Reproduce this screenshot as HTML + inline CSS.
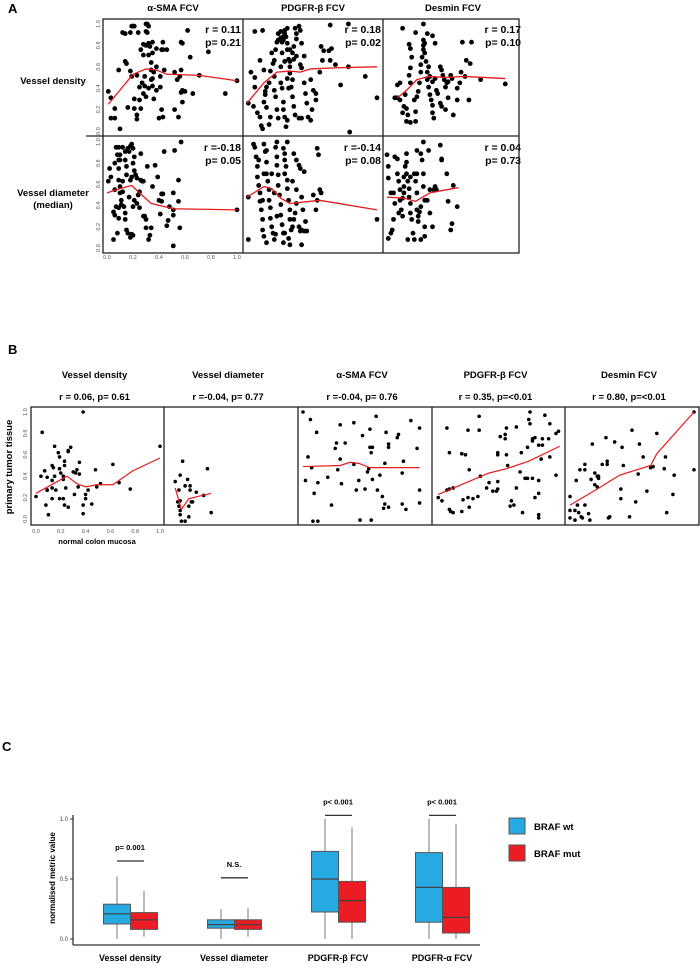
<!DOCTYPE html>
<html><head><meta charset="utf-8"><style>
body{margin:0;background:#fff;width:700px;height:969px;overflow:hidden}
svg{display:block;font-family:"Liberation Sans",Arial,sans-serif}
.b{font-weight:bold}
</style></head><body>
<svg id="fig" width="700" height="969" viewBox="0 0 700 969">
<g id="gA"></g>
<g id="gB"></g>
<g id="gC"></g>
</svg>
<script>
// ---------- Panel A data ----------
const aColTitles=["α-SMA FCV","PDGFR-β FCV","Desmin FCV"];
const aRowTitles=[["Vessel density"],["Vessel diameter","(median)"]];
const aR=[["r = 0.11","r = 0.18","r = 0.17"],["r =-0.18","r =-0.14","r = 0.04"]];
const aP=[["p= 0.21","p= 0.02","p= 0.10"],["p= 0.05","p= 0.08","p= 0.73"]];
const aTicks=[0,0.2,0.4,0.6,0.8,1.0];
const a11=[[.01,.37],[.03,.12],[.06,.12],[.03,.31],[.06,.21],[.10,.02],[.09,.57],[.12,.92],[.14,.65],[.14,.91],[.16,.22],[.18,.92],[.19,.98],[.20,.98],[.21,.98],[.15,.63],[.18,.56],[.19,.51],[.21,.30],[.23,.52],[.23,.11],[.23,.15],[.24,.92],[.21,.21],[.25,.29],[.25,.41],[.26,.21],[.27,.45],[.28,.35],[.29,.42],[.29,.51],[.30,.93],[.30,1.0],[.31,1.0],[.32,.98],[.31,.92],[.30,.80],[.32,.82],[.33,.79],[.28,.81],[.26,.76],[.28,.71],[.32,.71],[.35,.73],[.34,.64],[.34,.57],[.36,.55],[.34,.48],[.35,.42],[.36,.30],[.30,.32],[.32,.40],[.38,.77],[.38,.60],[.35,.83],[.42,.76],[.43,.83],[.43,.76],[.44,.57],[.46,.76],[.41,.51],[.41,.41],[.42,.20],[.43,.13],[.40,.12],[.35,.49],[.38,.38],[.52,.20],[.52,.55],[.54,.48],[.56,.51],[.58,.38],[.57,.36],[.55,.13],[.57,.57],[.58,.82],[.57,.83],[.58,.27],[.60,.37],[.62,.94],[.64,.69],[.66,.35],[.71,.52],[.78,.74],[.91,.35],[1.0,.47]];
const a11Line=[[.01,.25],[.2,.53],[.30,.58],[.38,.57],[.46,.53],[.71,.52],[1.0,.47]];
const a12=[[.01,.26],[.06,.93],[.12,.94],[.03,.55],[.06,.50],[.06,.41],[.05,.23],[.08,.17],[.10,.13],[.11,.05],[.12,.02],[.13,.27],[.14,.34],[.15,.41],[.17,.45],[.10,.66],[.13,.57],[.14,.37],[.15,.22],[.17,.06],[.18,.13],[.18,.56],[.19,.73],[.20,.63],[.21,.51],[.21,.38],[.22,.32],[.21,.66],[.22,.76],[.23,.83],[.24,.85],[.24,.91],[.26,.93],[.26,.87],[.27,.83],[.28,.88],[.28,.85],[.29,.91],[.29,.94],[.30,.88],[.31,.82],[.31,.76],[.32,.67],[.33,.60],[.33,.54],[.35,.48],[.34,.41],[.35,.32],[.36,.23],[.37,.15],[.26,.45],[.27,.40],[.28,.27],[.28,.20],[.29,.13],[.30,.04],[.31,.10],[.23,.20],[.24,.12],[.26,.60],[.27,.73],[.29,.65],[.31,.49],[.32,.40],[.33,.65],[.35,.73],[.36,.79],[.38,.86],[.38,.91],[.40,.98],[.41,.94],[.42,.82],[.44,.70],[.41,.62],[.42,.59],[.44,.45],[.45,.35],[.46,.26],[.47,.13],[.49,.10],[.49,.48],[.50,.20],[.51,.38],[.53,.35],[.53,.29],[.56,.55],[.57,.79],[.58,.66],[.59,.75],[.63,.75],[.64,.66],[.64,.99],[.65,.77],[.68,.62],[.72,.43],[.78,.60],[.78,1.0],[.79,-.01],[.91,.51],[1.0,.31],[.42,.12],[.40,.12],[.36,.67],[.38,.70],[.33,.76],[.31,.96],[.37,.96]];
const a12Line=[[.0,.26],[.13,.45],[.23,.55],[.33,.56],[.41,.55],[.49,.58],[.67,.59],[1.0,.60]];
const a13=[[.12,.96],[.22,.92],[.28,1.0],[.17,.81],[.18,.77],[.08,.43],[.08,.31],[.10,.29],[.13,.23],[.12,.17],[.14,.34],[.15,.21],[.16,.15],[.17,.52],[.18,.59],[.19,.69],[.18,.45],[.21,.29],[.22,.18],[.23,.32],[.24,.37],[.25,.45],[.26,.55],[.26,.62],[.27,.69],[.28,.76],[.28,.80],[.29,.82],[.29,.73],[.30,.65],[.31,.55],[.31,.48],[.32,.41],[.33,.34],[.34,.29],[.35,.24],[.35,.17],[.36,.12],[.28,.85],[.31,.91],[.35,.89],[.37,.82],[.15,.09],[.18,.08],[.22,.09],[.32,.60],[.33,.51],[.35,.46],[.37,.49],[.38,.38],[.39,.35],[.41,.60],[.42,.57],[.43,.52],[.44,.48],[.45,.41],[.46,.45],[.47,.46],[.49,.52],[.50,.49],[.41,.26],[.42,.23],[.45,.20],[.47,.31],[.51,.15],[.54,.29],[.54,.40],[.56,.45],[.57,.55],[.58,.83],[.60,.51],[.61,.66],[.63,.29],[.64,.63],[.65,.83],[.72,.48],[.91,.44],[.10,.45],[.06,.31]];
const a13Line=[[.08,.31],[.15,.38],[.23,.48],[.32,.51],[.44,.50],[.59,.51],[.91,.49]];
const a21=[[.01,.63],[.02,.75],[.03,.67],[.05,.08],[.06,.80],[.07,.95],[.08,.88],[.09,.83],[.09,.75],[.09,.95],[.10,.88],[.10,.83],[.10,.58],[.11,.45],[.12,.63],[.12,.95],[.14,.91],[.14,.83],[.15,.77],[.15,.69],[.16,.94],[.17,.91],[.18,.96],[.19,.98],[.20,.80],[.20,.94],[.21,.86],[.21,.73],[.22,.69],[.05,.34],[.06,.31],[.07,.39],[.09,.38],[.09,.28],[.10,.52],[.11,.41],[.12,.53],[.13,.39],[.14,.33],[.14,.27],[.15,.17],[.16,.14],[.18,.10],[.19,.13],[.20,.12],[.21,.45],[.23,.42],[.24,.50],[.25,.38],[.25,.53],[.26,.64],[.26,.89],[.27,.63],[.28,.63],[.29,.30],[.30,.27],[.28,.30],[.30,.19],[.31,.77],[.32,.08],[.33,.12],[.34,.19],[.35,.58],[.37,.78],[.39,.67],[.40,.45],[.41,.32],[.42,.44],[.42,.51],[.43,.51],[.44,.91],[.46,.21],[.47,.26],[.48,.39],[.51,.31],[.51,.36],[.55,.44],[.55,.64],[.56,.19],[.57,1.0],[.52,.92],[.51,.52],[.51,.02],[.20,.39],[.18,.64],[.17,.48],[.08,.14],[.09,.64],[.19,.67],[.23,.66],[.06,.55],[1.0,.36]];
const a21Line=[[0,.52],[.10,.56],[.19,.59],[.25,.52],[.34,.42],[.51,.37],[1.0,.36]];
const a22=[[.01,.08],[.01,.48],[.05,.98],[.06,.95],[.07,.86],[.08,.77],[.08,.67],[.09,.59],[.10,.52],[.10,.44],[.11,.36],[.12,.27],[.12,.17],[.13,.11],[.13,.98],[.14,.91],[.15,.81],[.15,.70],[.16,.63],[.17,.55],[.17,.45],[.18,.38],[.18,.28],[.19,.20],[.20,.14],[.21,.08],[.22,.95],[.23,.86],[.23,.78],[.24,.69],[.24,.59],[.25,.50],[.26,.41],[.26,.31],[.27,.22],[.28,.14],[.28,.05],[.29,.89],[.29,.83],[.30,.77],[.31,.64],[.31,.56],[.32,.45],[.33,.36],[.33,.27],[.34,.17],[.23,1.0],[.28,.94],[.29,.70],[.33,.03],[.35,.20],[.36,.27],[.37,.33],[.38,.42],[.40,.20],[.41,.16],[.42,.17],[.44,.16],[.42,.03],[.36,.89],[.35,.63],[.38,.55],[.40,.78],[.41,.75],[.44,.72],[.42,.48],[.43,.36],[.45,.25],[.46,.16],[.51,.50],[.53,.36],[.54,.45],[.54,.94],[.55,.88],[.56,.55],[.57,.52],[.21,.52],[.19,.70],[.15,.92],[.13,.70],[.09,.83],[.12,.45],[.23,.30],[.22,.13],[.29,.14],[.31,1.0],[.38,.83],[1.0,.27],[.32,.09],[.15,.05]];
const a22Line=[[0,.48],[.13,.58],[.19,.56],[.26,.47],[.33,.42],[.56,.45],[1.0,.36]];
const a23=[[.0,.88],[.01,.77],[.01,.09],[.01,.66],[.03,.52],[.04,.17],[.05,.52],[.06,.86],[.08,.84],[.08,.70],[.09,.63],[.10,.55],[.10,.45],[.11,.36],[.12,.30],[.12,.47],[.13,.58],[.13,.67],[.14,.77],[.15,.81],[.15,.70],[.16,.63],[.17,.56],[.17,.48],[.18,.42],[.18,.33],[.19,.27],[.20,.14],[.21,.08],[.21,.70],[.22,.63],[.23,.52],[.23,.36],[.24,.30],[.24,.25],[.25,.34],[.26,.39],[.26,.89],[.27,.83],[.28,.70],[.28,1.0],[.29,.20],[.29,.11],[.31,.45],[.32,.92],[.33,.55],[.33,.33],[.35,.20],[.36,.55],[.37,.58],[.38,.55],[.41,.97],[.42,.83],[.42,.84],[.46,.70],[.47,.44],[.49,.17],[.50,.23],[.51,.59],[.54,.39],[.06,.42],[.16,.08],[.13,.52],[.23,.70],[.23,.92],[.18,.67],[.15,.89],[.09,.33],[.05,.27],[.03,.14],[.28,.58],[.29,.45],[.26,.08]];
const a23Line=[[0,.48],[.13,.47],[.22,.44],[.33,.52],[.46,.55],[.55,.57]];

// ---------- Panel B data ----------
const bTitles=["Vessel density","Vessel diameter","α-SMA FCV","PDGFR-β FCV","Desmin FCV"];
const bStats=["r = 0.06, p= 0.61","r =-0.04, p= 0.77","r =-0.04, p= 0.76","r = 0.35, p=<0.01","r = 0.80, p=<0.01"];
const bTicks=[0,0.2,0.4,0.6,0.8,1.0];
const b1=[[0,.21],[.04,.40],[.05,.81],[.07,.45],[.08,.13],[.09,.27],[.09,.39],[.10,.04],[.09,.27],[.13,.36],[.13,.50],[.14,.48],[.15,.68],[.15,.40],[.13,.29],[.16,.27],[.13,.19],[.18,.62],[.19,.58],[.19,.47],[.20,.43],[.22,.40],[.22,.37],[.23,.54],[.23,.50],[.24,.29],[.19,.19],[.22,.19],[.23,.13],[.26,.63],[.26,.64],[.26,.11],[.28,.67],[.30,.44],[.31,.23],[.32,.43],[.33,.46],[.35,.53],[.35,.42],[.34,.30],[.38,1.0],[.38,.13],[.38,.05],[.40,.19],[.40,.23],[.42,.27],[.45,.14],[.48,.46],[.49,.30],[.52,.33],[.62,.51],[.67,.34],[.76,.28],[1.0,.68]];
const b1Line=[[0,.24],[.25,.40],[.33,.33],[.40,.30],[.49,.32],[.62,.32],[.78,.45],[1,.57]];
const b2=[[.05,.35],[.11,.54],[.09,.41],[.08,.27],[.07,.16],[.08,.12],[.09,.17],[.09,.08],[.09,.04],[.10,-.02],[.13,-.02],[.16,.12],[.17,.31],[.17,.27],[.16,.02],[.18,.16],[.19,.16],[.22,.25],[.28,.22],[.31,.47],[.34,.06],[.15,.37],[.13,.31]];
const b2Line=[[.05,.29],[.10,.09],[.16,.19],[.23,.21],[.34,.24]];
const b3=[[0,1.0],[.06,.93],[.11,.81],[.04,.58],[.07,.48],[.02,.36],[.12,.34],[.09,.24],[.20,.39],[.23,.13],[.26,.66],[.27,.71],[.30,.56],[.30,.88],[.31,.33],[.34,.71],[.08,-.02],[.12,-.02],[.28,.46],[.41,.90],[.59,.96],[.48,.78],[.54,.84],[.67,.81],[.77,.79],[.76,.76],[.87,.92],[.94,.85],[.69,.70],[.69,.67],[.54,.67],[.56,.67],[.55,.62],[.66,.52],[.41,.51],[.53,.47],[.52,.44],[.62,.41],[.56,.37],[.81,.54],[.80,.43],[.92,.66],[.45,.36],[.43,.27],[.50,.28],[.60,.27],[.64,.21],[.66,.14],[.65,.10],[.69,.11],[.80,.14],[.83,.09],[.94,.27],[.94,.15],[.46,-.01],[.55,-.01]];
const b3Line=[[0,.49],[.30,.50],[.38,.53],[.45,.52],[.54,.48],[.77,.48],[.94,.48]];
const b4=[[.08,.85],[.34,.96],[.34,.83],[.25,.83],[.10,.62],[.20,.61],[.23,.60],[.26,.46],[.35,.40],[.56,.85],[.64,.86],[.75,1.0],[.74,.93],[.75,.89],[.87,.97],[.91,.89],[.96,.80],[.98,.82],[.51,.77],[.55,.79],[.55,.75],[.77,.75],[.77,.73],[.79,.76],[.85,.75],[.90,.75],[.85,.69],[.82,.69],[.49,.62],[.49,.60],[.56,.60],[.68,.62],[.73,.67],[.84,.56],[.91,.58],[.96,.41],[.57,.50],[.67,.44],[.71,.38],[.73,.38],[.77,.38],[.82,.36],[.42,.34],[.49,.35],[.40,.29],[.49,.28],[.45,.26],[.48,.26],[.64,.29],[.01,.20],[.04,.17],[.08,.27],[.10,.28],[.13,.29],[.21,.18],[.25,.20],[.29,.19],[.33,.21],[.26,.11],[.10,.09],[.11,.07],[.13,.06],[.20,.07],[.60,.17],[.59,.12],[.62,.13],[.69,.06],[.82,.24],[.79,.20],[.82,.04],[.82,.01]];
const b4Line=[[.01,.23],[.42,.43],[.56,.47],[.74,.54],[.99,.68]];
const b5=[[1.0,1.0],[1.0,.46],[0,.21],[0,.08],[0,.01],[.04,.08],[.04,-.01],[.06,.13],[.07,.06],[.09,.02],[.10,.01],[.12,.13],[.15,.05],[.16,-.01],[.05,.36],[.08,.46],[.12,.46],[.12,.51],[.17,.37],[.20,.43],[.22,.40],[.23,.38],[.23,.40],[.18,.70],[.20,.32],[.22,.30],[.26,.51],[.30,.54],[.30,.51],[.29,.76],[.36,.72],[.42,.67],[.43,.50],[.50,.83],[.56,.70],[.59,.58],[.55,.42],[.70,.80],[.77,.58],[.76,.47],[.65,.48],[.67,.49],[.84,.41],[.83,.23],[.41,.28],[.41,.19],[.53,.16],[.62,.26],[.31,.01],[.32,.02],[.48,.02],[.78,.06]];
const b5Line=[[0,.13],[.22,.28],[.40,.41],[.65,.50],[.70,.61],[1.0,1.0]];

// ---------- Panel C data ----------
const cCats=["Vessel density","Vessel diameter","PDGFR-β FCV","PDGFR-α FCV"];
const cSig=["p= 0.001","N.S.","p< 0.001","p< 0.001"];
const cSigLevel=[0.65,0.51,1.03,1.03];
// [lowWhisker, q1, median, q3, highWhisker]
const cWt=[[0,.125,.21,.29,.52],[0,.09,.12,.16,.25],[0,.225,.50,.73,1.0],[0,.14,.43,.72,1.0]];
const cMut=[[.02,.08,.16,.22,.40],[.02,.08,.12,.16,.26],[0,.14,.32,.48,.93],[0,.05,.18,.43,.96]];
const cTicks=[0,0.5,1.0];
const cTickLabels=["0.0","0.5","1.0"];
const cLegend=["BRAF wt","BRAF mut"];

const NS="http://www.w3.org/2000/svg";
function el(tag,attrs,parent,text){const e=document.createElementNS(NS,tag);for(const k in attrs)e.setAttribute(k,attrs[k]);if(text!==undefined)e.textContent=text;parent.appendChild(e);return e;}
const gA=document.getElementById('gA'),gB=document.getElementById('gB'),gC=document.getElementById('gC');

// ===== Panel A =====
const aLeft=[103,243,383],aW=140;
const aRowY0=[131,248],aRowH=[107,106];
const axA=(c,v)=>aLeft[c]+4+v*130;
const ayA=(r,v)=>aRowY0[r]-v*aRowH[r];
let t=el('text',{x:8,y:13,'font-size':13,'class':'b'},gA,'A');


aColTitles.forEach((s,i)=>{const e=el('text',{x:aLeft[i]+70,y:11,'font-size':9.5,'class':'b','text-anchor':'middle'},gA,s);

});
aRowTitles.forEach((lines,r)=>{lines.forEach((s,k)=>{const yy=r===0?84:196+k*12;const e=el('text',{x:53,y:yy,'font-size':9.5,'class':'b','text-anchor':'middle'},gA,s);

});});
const aData=[[a11,a12,a13],[a21,a22,a23]],aLines=[[a11Line,a12Line,a13Line],[a21Line,a22Line,a23Line]];
for(let r=0;r<2;r++)for(let c=0;c<3;c++){
  const g=el('g',{},gA);
  
  
  aData[r][c].forEach(p=>{const d=el('circle',{cx:axA(c,p[0]),cy:ayA(r,p[1]),r:2.4,fill:'#000'},g);
  
  });
  const pl=el('polyline',{points:aLines[r][c].map(p=>axA(c,p[0])+','+ayA(r,p[1])).join(' '),fill:'none',stroke:'#e8191c','stroke-width':1.3},g);
  
  
  const right=aLeft[c]+aW-2;
  const ty=r===0?33:151;
  const e1=el('text',{x:right,y:ty,'font-size':10.5,'class':'b','text-anchor':'end'},g,aR[r][c]);
  
  
  const e2=el('text',{x:right,y:ty+13,'font-size':10.5,'class':'b','text-anchor':'end'},g,aP[r][c]);
  
  
}
const fr=el('g',{stroke:'#222','stroke-width':1.3,fill:'none'},gA);


el('rect',{x:103,y:19,width:416,height:234},fr);
el('line',{x1:86,y1:136,x2:519,y2:136},fr);
el('line',{x1:243,y1:19,x2:243,y2:253},fr);
el('line',{x1:383,y1:19,x2:383,y2:253},fr);
for(let r=0;r<2;r++)aTicks.forEach(v=>{const y=ayA(r,v);
  const e=el('text',{x:0,y:0,'font-size':5.5,fill:'#555','text-anchor':'middle',transform:`translate(100,${y}) rotate(-90)`},gA,v.toFixed(1));
  
  });
aTicks.forEach(v=>{const e=el('text',{x:axA(0,v),y:259,'font-size':5.5,fill:'#555','text-anchor':'middle'},gA,v.toFixed(1));
  
  });

// ===== Panel B =====
const bLeft=[31,164,298,432,565],bRight=699;
const bx=(c,v)=>bLeft[c]+5+v*124;
const by=v=>519-v*107;
t=el('text',{x:8,y:354,'font-size':13,'class':'b'},gB,'B');


const bData=[b1,b2,b3,b4,b5],bLines=[b1Line,b2Line,b3Line,b4Line,b5Line];
bTitles.forEach((s,i)=>{const cx=(bLeft[i]+(i<4?bLeft[i+1]:bRight))/2;
  const e=el('text',{x:cx-3,y:378,'font-size':9.5,'class':'b','text-anchor':'middle'},gB,s);
  
  
  const e2=el('text',{x:cx-3,y:400,'font-size':9.5,'class':'b','text-anchor':'middle'},gB,bStats[i]);
  
  
  const g=el('g',{},gB);
  
  
  bData[i].forEach(p=>{const d=el('circle',{cx:bx(i,p[0]),cy:by(p[1]),r:1.8,fill:'#000'},g);
  
  });
  const pl=el('polyline',{points:bLines[i].map(p=>bx(i,p[0])+','+by(p[1])).join(' '),fill:'none',stroke:'#e8191c','stroke-width':1.2},g);
  
  
});
const fb=el('g',{stroke:'#222','stroke-width':1.3,fill:'none'},gB);


el('rect',{x:31,y:407,width:668,height:118},fb);
[164,298,432,565].forEach(x=>el('line',{x1:x,y1:407,x2:x,y2:525},fb));
bTicks.forEach(v=>{const e=el('text',{x:0,y:0,'font-size':5.5,fill:'#555','text-anchor':'middle',transform:`translate(27,${by(v)}) rotate(-90)`},gB,v.toFixed(1));
  
  
  const e2=el('text',{x:bx(0,v),y:533,'font-size':5.5,fill:'#555','text-anchor':'middle'},gB,v.toFixed(1));
  
  });
t=el('text',{x:97,y:544,'font-size':7.5,'class':'b','text-anchor':'middle'},gB,'normal colon mucosa');


t=el('text',{x:0,y:0,'font-size':9.5,'class':'b','text-anchor':'middle',transform:'translate(12,467) rotate(-90)'},gB,'primary tumor tissue');



// ===== Panel C =====
const cy=v=>939-v*120;
const cGroupX=[130,234,338,442],cHalf=14,cBoxW=27;
t=el('text',{x:2,y:751,'font-size':13,'class':'b'},gC,'C');


const ax=el('g',{stroke:'#333','stroke-width':1.3},gC);


el('line',{x1:73,y1:815,x2:73,y2:945},ax);
el('line',{x1:73,y1:945,x2:480,y2:945},ax);
cTicks.forEach((v,i)=>{const e=el('text',{x:68,y:cy(v)+2,'font-size':6,fill:'#444','text-anchor':'end'},gC,cTickLabels[i]);
  
  
  el('line',{x1:70,y1:cy(v),x2:73,y2:cy(v),stroke:'#333','stroke-width':1},gC);});
t=el('text',{x:0,y:0,'font-size':8,'class':'b','text-anchor':'middle',transform:'translate(55,878) rotate(-90)'},gC,'normalised metric value');


function box(cx,d,fill,name){
  const g=el('g',{},gC);
  
  
  el('line',{x1:cx,y1:cy(d[0]),x2:cx,y2:cy(d[4]),stroke:'#777','stroke-width':1},g);
  el('rect',{x:cx-cBoxW/2,y:cy(d[3]),width:cBoxW,height:cy(d[1])-cy(d[3]),fill:fill,stroke:'#555','stroke-width':1},g);
  el('line',{x1:cx-cBoxW/2,y1:cy(d[2]),x2:cx+cBoxW/2,y2:cy(d[2]),stroke:'#444','stroke-width':1.2},g);
}
cCats.forEach((s,i)=>{
  const gx=cGroupX[i];
  box(gx-cHalf+1,cWt[i],'#27aae1','box-braf-wt');
  box(gx+cHalf,cMut[i],'#ec1c24','box-braf-mut');
  const e=el('text',{x:gx,y:961,'font-size':9,'class':'b','text-anchor':'middle'},gC,s);
  
  
  const ly=cy(cSigLevel[i]);
  const sl=el('line',{x1:gx-cHalf+1,y1:ly,x2:gx+cHalf,y2:ly,stroke:'#333','stroke-width':1.3},gC);
  
  
  const st=el('text',{x:gx,y:ly-11,'font-size':7.5,'class':'b','text-anchor':'middle'},gC,cSig[i]);
  
  
});
const lg=el('g',{},gC);


[['#27aae1',818],['#ec1c24',845]].forEach((c,i)=>{
  const r=el('rect',{x:509,y:c[1],width:16,height:16,fill:c[0],stroke:'#555','stroke-width':1},lg);
  
  
  const e=el('text',{x:534,y:c[1]+12,'font-size':9.5,'class':'b'},lg,cLegend[i]);
  
  
});
</script>
</body></html>
